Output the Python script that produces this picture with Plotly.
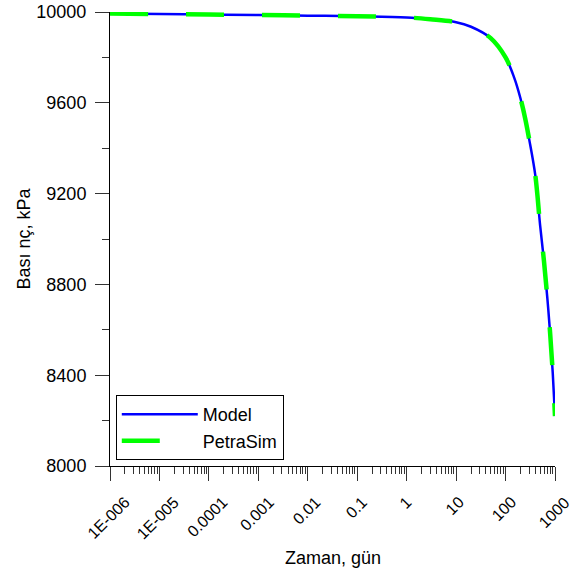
import math
import plotly.graph_objects as go

# Data (time in days, pressure in kPa)
time_days = [1e-6, 1e-5, 1e-4, 1e-3, 1e-2, 1e-1, 1, 3, 10, 20, 50, 100, 150, 200,
             250, 300, 400, 500, 600, 700, 800, 900, 1000]
model_kpa = [9993, 9991, 9989, 9987, 9984, 9981, 9976, 9968, 9955, 9935, 9885, 9800,
             9710, 9620, 9530, 9440, 9280, 9060, 8900, 8740, 8580, 8410, 8220]
petrasim_kpa = [9993, 9991, 9989, 9987, 9984, 9981, 9976, 9968, 9955, 9935, 9885, 9800,
                9710, 9620, 9530, 9440, 9280, 9060, 8900, 8740, 8580, 8410, 8220]

x_tick_vals = [1e-6, 1e-5, 1e-4, 1e-3, 1e-2, 1e-1, 1, 10, 100, 1000]
x_tick_text = ["1E-006", "1E-005", "0.0001", "0.001", "0.01", "0.1", "1", "10", "100", "1000"]
y_tick_vals = [8000, 8400, 8800, 9200, 9600, 10000]
y_tick_text = ["8000", "8400", "8800", "9200", "9600", "10000"]
y_minor_vals = [8200, 8600, 9000, 9400, 9800]
x_minor_vals = [m * d for d in x_tick_vals[:-1] for m in range(2, 10)]

FONT = "Liberation Sans, Arial, sans-serif"
FS = 18

fig = go.Figure()
fig.add_trace(go.Scatter(x=time_days, y=model_kpa, mode="lines", name="Model",
                         line=dict(color="#0000ff", width=2.5, shape="spline")))
fig.add_trace(go.Scatter(x=time_days, y=petrasim_kpa, mode="lines", name="PetraSim",
                         line=dict(color="#00ff00", width=4.5, dash="38px,38px", shape="spline")))

# rotated x tick labels, centred on their ticks
annotations = []
for v, t in zip(x_tick_vals, x_tick_text):
    annotations.append(dict(x=math.log10(v), xref="x", y=0, yref="paper",
                            text=t, textangle=-45, showarrow=False, borderpad=0,
                            xanchor="center", yanchor="top", yshift=-26, xshift=-1,
                            font=dict(family=FONT, size=16, color="black")))
annotations.append(dict(x=0.5, xref="paper", y=0, yref="paper", text="Zaman, gün",
                        showarrow=False, xanchor="center", yanchor="middle", yshift=-92,
                        font=dict(family=FONT, size=FS, color="black")))

fig.update_layout(
    width=571, height=576,
    margin=dict(l=110, r=16, t=12, b=110),
    paper_bgcolor="white", plot_bgcolor="white",
    font=dict(family=FONT, size=FS, color="black"),
    showlegend=True,
    legend=dict(x=0.013, y=0.013, xanchor="left", yanchor="bottom",
                bordercolor="black", borderwidth=1, bgcolor="white",
                font=dict(size=FS), itemwidth=76, tracegroupgap=0),
    annotations=annotations,
    xaxis=dict(type="log", range=[-6, 3], tickmode="array", automargin=False,
               tickvals=x_tick_vals, showticklabels=False,
               ticks="outside", ticklen=14, tickcolor="#333", tickwidth=1,
               showline=True, linecolor="black", linewidth=1, mirror=False,
               showgrid=False, zeroline=False,
               minor=dict(tickmode="array", tickvals=x_minor_vals, ticks="outside",
                          ticklen=7, tickcolor="#333", tickwidth=1, showgrid=False)),
    yaxis=dict(range=[8000, 10000], tickmode="array", tickvals=y_tick_vals,
               ticktext=y_tick_text, automargin=False, ticklabelstandoff=5,
               ticks="outside", ticklen=14, tickcolor="#333", tickwidth=1,
               showline=True, linecolor="black", linewidth=1, mirror=False,
               showgrid=False, zeroline=False, tickfont=dict(size=FS),
               minor=dict(tickmode="array", tickvals=y_minor_vals, ticks="outside",
                          ticklen=7, tickcolor="#333", tickwidth=1, showgrid=False),
               title=dict(text="Bası nç, kPa", font=dict(size=FS), standoff=1)),
)

fig.write_html("out.html")
